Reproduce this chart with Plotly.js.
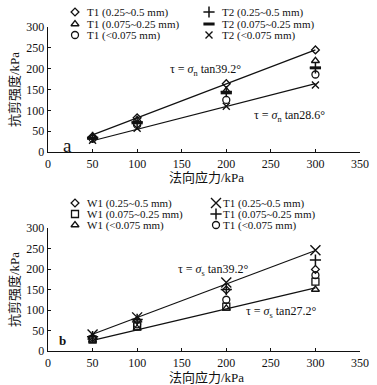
<!DOCTYPE html>
<html><head><meta charset="utf-8">
<script src="https://cdn.plot.ly/plotly-3.0.1.min.js"></script>
<style>html,body{margin:0;padding:0;background:#fff}#c{width:377px;height:385px}</style>
</head><body><div id="c"></div>
<script>
// ---- data ----
const stress = [50, 100, 200, 300];
const lineX = [50, 300];

// panel a
const aNames = ['T1 (0.25~0.5 mm)', 'T2 (0.25~0.5 mm)', 'T1 (0.075~0.25 mm)', 'T2 (0.075~0.25 mm)', 'T1 (<0.075 mm)', 'T2 (<0.075 mm)'];
const aT1coarse = [37, 82, 164, 245];
const aT2coarse = [35, 72, 145, 202];
const aT1mid = [35, 77, 147, 219];
const aT2mid = [33, 70, 142, 202];
const aT1fine = [32, 65, 125, 186];
const aT2fine = [28, 57, 110, 161];
const aLineHigh = [41, 245];
const aLineLow = [27, 164];

// panel b
const bNames = ['W1 (0.25~0.5 mm)', 'T1 (0.25~0.5 mm)', 'W1 (0.075~0.25 mm)', 'T1 (0.075~0.25 mm)', 'W1 (<0.075 mm)', 'T1 (<0.075 mm)'];
const bW1coarse = [33, 75, 149, 199];
const bT1coarse = [40, 82, 167, 246];
const bW1mid = [28, 60, 108, 169];
const bT1mid = [35, 77, 150, 222];
const bW1fine = [26, 55, 104, 150];
const bT1fine = [30, 65, 125, 185];
const bLineHigh = [41, 245];
const bLineLow = [26, 154];

const xTicks = [0, 50, 100, 150, 200, 250, 300, 350];
const yTicks = [0, 50, 100, 150, 200, 250, 300];

// ---- styles ----
const FONT = 'Liberation Serif, Noto Sans CJK SC, serif';
const BLK = '#111';
function mk(symbol, size, width) { return {symbol: symbol, size: size, color: BLK, line: {width: width, color: BLK}}; }
const sym = {
  diamond: mk('diamond-open', 6, 1.3),
  triangle: mk('triangle-up-open', 7, 1.3),
  circle: mk('circle-open', 7, 1.3),
  plus: mk('cross-thin-open', 8, 1.5),
  dash: mk('line-ew-open', 8, 3),
  xs: mk('x-thin-open', 7, 1.4),
  xl: mk('x-thin-open', 10, 1.4),
  square: mk('square-open', 7, 1.3)
};

const aSeries = [aT1coarse, aT2coarse, aT1mid, aT2mid, aT1fine, aT2fine];
const aSyms = [sym.diamond, sym.plus, sym.triangle, sym.dash, sym.circle, sym.xs];
const bSeries = [bW1coarse, bT1coarse, bW1mid, bT1mid, bW1fine, bT1fine];
const bSyms = [sym.diamond, sym.xl, sym.square, sym.plus, sym.triangle, sym.circle];

const traces = [];
function lineTrace(y, xa, ya) {
  return {x: lineX, y: y, xaxis: xa, yaxis: ya, mode: 'lines', line: {color: BLK, width: 1.2}, showlegend: false, hoverinfo: 'skip'};
}
traces.push(lineTrace(aLineHigh, 'x', 'y'), lineTrace(aLineLow, 'x', 'y'));
traces.push(lineTrace(bLineHigh, 'x2', 'y2'), lineTrace(bLineLow, 'x2', 'y2'));
aSeries.forEach((s, i) => traces.push({x: stress, y: s, xaxis: 'x', yaxis: 'y', mode: 'markers', marker: aSyms[i], name: aNames[i], showlegend: false, cliponaxis: false}));
bSeries.forEach((s, i) => traces.push({x: stress, y: s, xaxis: 'x2', yaxis: 'y2', mode: 'markers', marker: bSyms[i], name: bNames[i], showlegend: false, cliponaxis: false}));

// legend keys drawn on a pixel overlay axis (x3/y3)
const annotations = [];
function legend(names, syms, rows, colMarkX, colTextX) {
  names.forEach((n, i) => {
    const r = Math.floor(i / 2), c = i % 2;
    traces.push({x: [colMarkX[c]], y: [rows[r]], xaxis: 'x3', yaxis: 'y3', mode: 'markers', marker: syms[i], showlegend: false, hoverinfo: 'skip', cliponaxis: false});
    annotations.push({xref: 'x3', yref: 'y3', x: colTextX[c], y: rows[r], text: n.replace('<', '&lt;'), showarrow: false, xanchor: 'left', yanchor: 'middle', borderpad: 0, font: {family: FONT, size: 11, color: BLK}});
  });
}
legend(aNames, aSyms, [12, 24, 35], [75, 209], [86, 221]);
legend(bNames, bSyms, [203, 214, 225], [75, 216], [86, 222]);

function ann(x, y, text, size, extra) {
  annotations.push(Object.assign({xref: 'x3', yref: 'y3', x: x, y: y, text: text, showarrow: false, xanchor: 'center', yanchor: 'middle', font: {family: FONT, size: size, color: BLK}}, extra || {}));
}
ann(205, 70, 'τ = <i>σ</i><sub>n</sub> tan39.2°', 12);
ann(289, 116, 'τ = <i>σ</i><sub>n</sub> tan28.6°', 12);
ann(67, 145, 'a', 19);
ann(213, 270, 'τ = <i>σ</i><sub>s</sub> tan39.2°', 12);
ann(281, 312, 'τ = <i>σ</i><sub>s</sub> tan27.2°', 12);
ann(62, 340, '<b>b</b>', 13);
ann(206, 177, '法向应力/kPa', 13);
ann(206, 377, '法向应力/kPa', 13);
ann(14, 90, '抗剪强度/kPa', 13, {textangle: -90});
ann(14, 290, '抗剪强度/kPa', 13, {textangle: -90});

const xd = [48 / 377, 360 / 377];
function xax(anchor) {
  return {domain: xd, range: [0, 350], anchor: anchor, tickvals: xTicks, ticks: 'inside', ticklen: 3, tickwidth: 1, tickcolor: BLK,
    showline: true, linecolor: BLK, linewidth: 1.3, showgrid: false, zeroline: false, automargin: false,
    tickfont: {family: FONT, size: 12, color: BLK}};
}
function yax(dom, anchor) {
  return {domain: dom, range: [0, 300], anchor: anchor, tickvals: yTicks, ticks: 'inside', ticklen: 3, tickwidth: 1, tickcolor: BLK,
    showline: true, linecolor: BLK, linewidth: 1.3, showgrid: false, zeroline: false, automargin: false,
    tickfont: {family: FONT, size: 12, color: BLK}};
}

const layout = {
  width: 377, height: 385, margin: {l: 0, r: 0, t: 0, b: 0},
  font: {family: FONT, color: BLK},
  paper_bgcolor: '#fff', plot_bgcolor: 'rgba(0,0,0,0)', showlegend: false,
  xaxis: xax('y'), yaxis: yax([1 - 152 / 385, 1 - 27 / 385], 'x'),
  xaxis2: xax('y2'), yaxis2: yax([1 - 351 / 385, 1 - 228 / 385], 'x2'),
  xaxis3: {domain: [0, 1], range: [0, 377], visible: false, anchor: 'y3', fixedrange: true},
  yaxis3: {domain: [0, 1], range: [385, 0], visible: false, anchor: 'x3', fixedrange: true},
  annotations: annotations
};
Plotly.newPlot('c', traces, layout, {staticPlot: true, displayModeBar: false});
</script>
</body></html>
